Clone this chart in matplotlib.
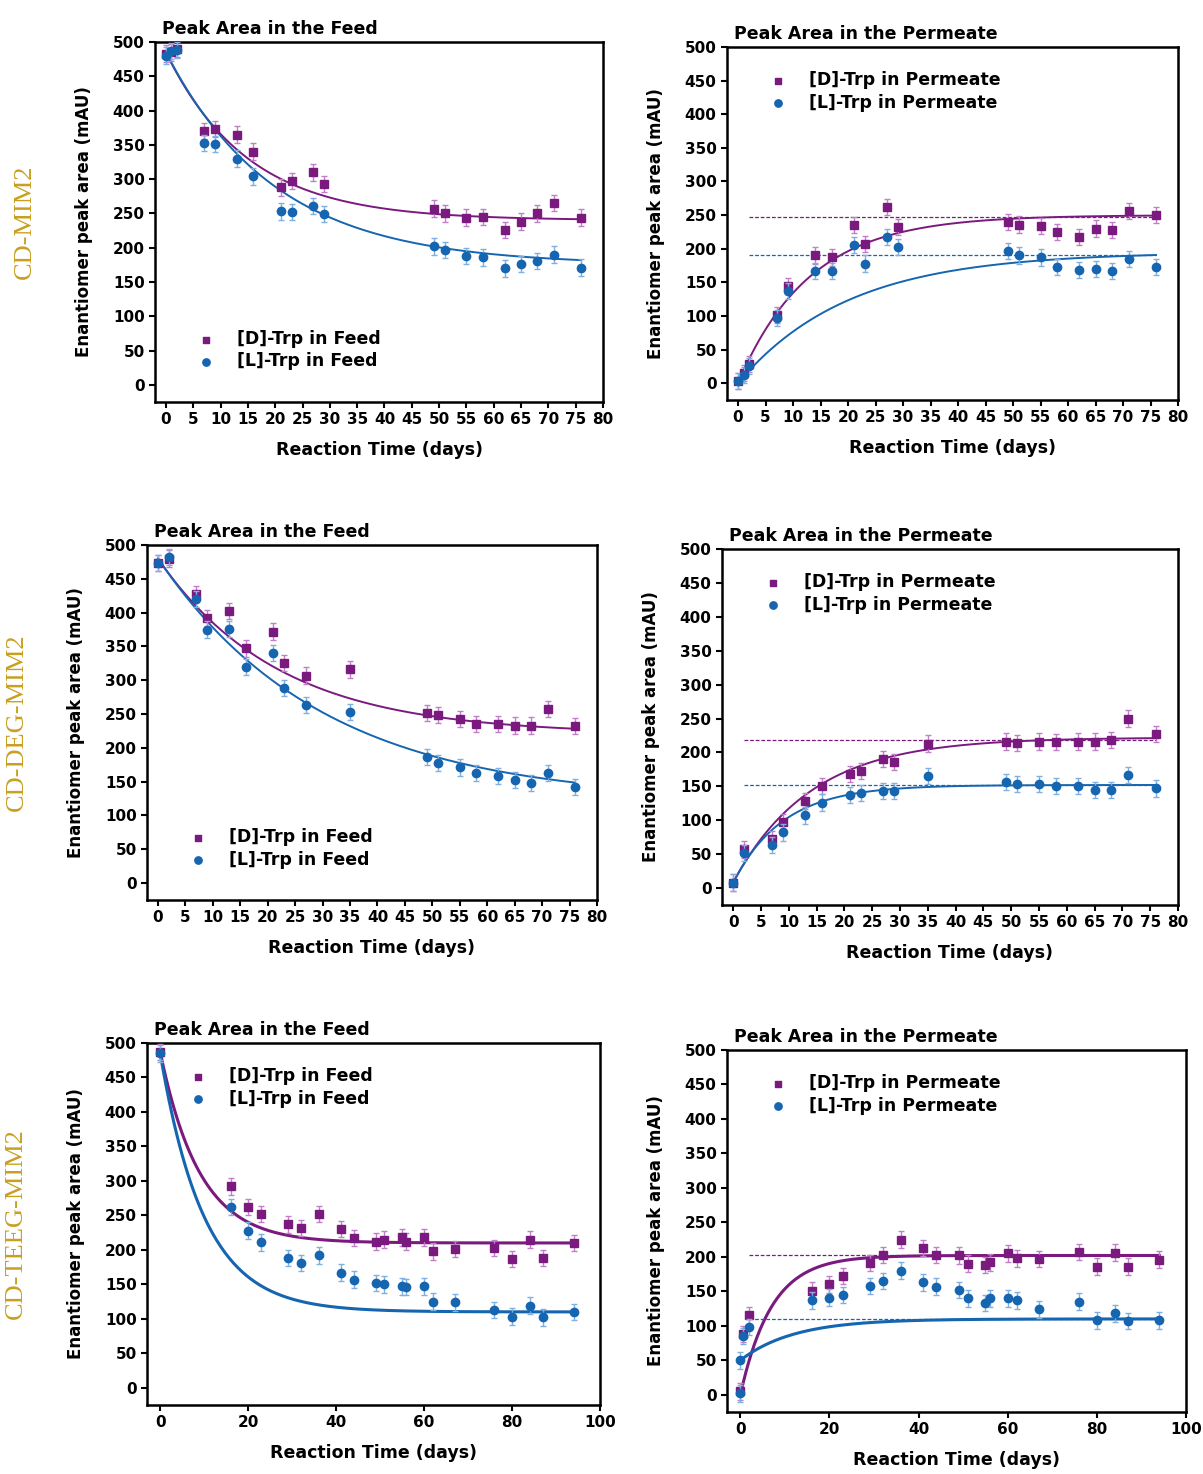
import numpy as np
import matplotlib.pyplot as plt

W, H = 1203, 1474
PURPLE = '#7b1a7e'
BLUE = '#1565b0'

# ---- data ----
t1 = [0, 1, 2, 7, 9, 13, 16, 21, 23, 27, 29, 49, 51, 55, 58, 62, 65, 68, 71, 76]
d1 = [483, 485, 490, 370, 373, 365, 340, 288, 297, 310, 293, 257, 250, 244, 245, 226, 238, 250, 265, 244]
l1 = [480, 487, 488, 353, 351, 330, 304, 253, 252, 261, 249, 202, 197, 188, 186, 170, 176, 181, 190, 171]

t2 = [0, 1, 2, 7, 9, 14, 17, 21, 23, 27, 29, 49, 51, 55, 58, 62, 65, 68, 71, 76]
d2 = [3, 15, 28, 102, 145, 190, 187, 235, 207, 262, 232, 240, 236, 234, 225, 218, 230, 228, 256, 250]
l2 = [3, 12, 25, 97, 137, 167, 167, 205, 178, 218, 203, 197, 190, 187, 173, 168, 170, 167, 185, 173]

t3 = [0, 2, 7, 9, 13, 16, 21, 23, 27, 35, 49, 51, 55, 58, 62, 65, 68, 71, 76]
d3 = [473, 480, 428, 392, 402, 347, 372, 326, 307, 316, 251, 249, 243, 235, 235, 233, 233, 258, 232]
l3 = [473, 482, 420, 375, 376, 320, 340, 289, 263, 253, 186, 178, 171, 163, 158, 152, 148, 163, 142]

t4 = [0, 2, 7, 9, 13, 16, 21, 23, 27, 29, 35, 49, 51, 55, 58, 62, 65, 68, 71, 76]
d4 = [8, 57, 72, 97, 128, 150, 168, 173, 190, 186, 213, 216, 214, 216, 215, 216, 216, 218, 250, 227]
l4 = [8, 52, 63, 82, 107, 126, 137, 140, 143, 143, 165, 156, 153, 153, 150, 150, 145, 145, 167, 147]

t5 = [0, 16, 20, 23, 29, 32, 36, 41, 44, 49, 51, 55, 56, 60, 62, 67, 76, 80, 84, 87, 94]
d5 = [487, 292, 262, 252, 237, 232, 252, 230, 217, 212, 215, 218, 212, 218, 198, 201, 203, 187, 215, 188, 210]
l5 = [485, 262, 228, 211, 188, 181, 192, 167, 157, 152, 150, 147, 146, 147, 125, 124, 113, 103, 119, 102, 110]

t6d = [0, 0.5, 2, 16, 20, 23, 29, 32, 36, 41, 44, 49, 51, 55, 56, 60, 62, 67, 76, 80, 84, 87, 94]
d6 = [5, 88, 115, 151, 160, 172, 191, 203, 225, 213, 203, 202, 190, 188, 192, 205, 198, 197, 207, 186, 206, 186, 196]
t6l = [0, 0, 0.5, 2, 16, 20, 23, 29, 32, 36, 41, 44, 49, 51, 55, 56, 60, 62, 67, 76, 80, 84, 87, 94]
l6 = [2, 50, 85, 98, 137, 141, 145, 158, 165, 180, 163, 157, 152, 140, 133, 140, 140, 137, 124, 135, 108, 118, 107, 108]

# fitted curves: (plateau, start, tau)
fits = {
    1: ((240, 485, 15), (175, 485, 20)),
    2: ((250, 0, 13), (195, 0, 20)),
    3: ((220, 480, 22), (120, 480, 30)),
    4: ((222, 8, 14), (152, 8, 9)),
    5: ((210, 487, 9), (110, 485, 10)),
    6: ((202, 0, 7), (110, 50, 12)),
}
dashed = {2: (247, 190), 4: (218, 152), 6: (202, 110)}

# axes boxes in pixels: left, top, right, bottom
boxes = {
    1: (155, 42, 603, 402), 2: (727, 47, 1178, 400),
    3: (147, 545, 597, 900), 4: (722, 549, 1178, 905),
    5: (147, 1043, 600, 1405), 6: (727, 1050, 1186, 1412),
}
panels = {
    1: (t1, d1, t1, l1), 2: (t2, d2, t2, l2), 3: (t3, d3, t3, l3),
    4: (t4, d4, t4, l4), 5: (t5, d5, t5, l5), 6: (t6d, d6, t6l, l6),
}
rows = ['CD-MIM2', 'CD-DEG-MIM2', 'CD-TEEG-MIM2']

plt.rcParams['font.family'] = 'DejaVu Sans'
fig = plt.figure(figsize=(W / 100, H / 100), dpi=100)

for k in range(1, 7):
    l, t, r, b = boxes[k]
    ax = fig.add_axes([l / W, 1 - b / H, (r - l) / W, (b - t) / H])
    td, yd, tl, yl = panels[k]
    feed = k % 2 == 1
    big = k >= 5
    xmax = 100 if big else 80
    tt = np.linspace(0, 76 if not big else 94, 300)
    for (a, y0, tau), c in zip(fits[k], (PURPLE, BLUE)):
        ax.plot(tt, a - (a - y0) * np.exp(-tt / tau), color=c, lw=2.2 if big else 1.4, zorder=2)
    if k in dashed:
        for v, c in zip(dashed[k], (PURPLE, BLUE)):
            ax.plot([2, 76 if not big else 94], [v, v], ls='--', dashes=(3, 1.5), color=c, lw=0.9)
    ax.errorbar(td, yd, yerr=12, fmt='s', ms=5.5, color=PURPLE, ecolor='#c080c8',
                elinewidth=1, capsize=2.5, zorder=3)
    ax.errorbar(tl, yl, yerr=12, fmt='o', ms=6, color=BLUE, ecolor='#80b0e0',
                elinewidth=1, capsize=2.5, zorder=4)
    # legend handles
    where = 'Feed' if feed else 'Permeate'
    hd = ax.scatter([], [], marker='s', s=22, color=PURPLE, label='[D]-Trp in ' + where)
    hl = ax.scatter([], [], marker='o', s=28, color=BLUE, label='[L]-Trp in ' + where)
    loc = 'lower left' if feed and not big else 'upper left'
    leg = ax.legend(handles=[hd, hl], loc=loc, frameon=False,
                    prop={'size': 12.5, 'weight': 'semibold'},
                    handletextpad=0.8, borderaxespad=1.0, labelspacing=0.25,
                    bbox_to_anchor=(0.02, 0.02) if loc == 'lower left' else (0.02, 1.0))
    ax.set_xlim(-2 if not big else -3, xmax)
    ax.set_ylim(-25, 500)
    ax.set_xticks(np.arange(0, xmax + 1, 20 if big else 5))
    ax.set_yticks(np.arange(0, 501, 50))
    ax.tick_params(labelsize=11, width=1.5, length=4)
    for s in ax.spines.values():
        s.set_linewidth(1.8)
    for lab in ax.get_xticklabels() + ax.get_yticklabels():
        lab.set_fontweight('bold')
    ax.set_xlabel('Reaction Time (days)', fontsize=12.5, fontweight='bold', labelpad=10)
    ax.set_ylabel('Enantiomer peak area (mAU)', fontsize=12, fontweight='bold', labelpad=14)
    ax.text(0.015, 1.012, 'Peak Area in the ' + where, transform=ax.transAxes,
            ha='left', va='bottom', fontsize=12.5, fontweight='semibold')
    if feed:
        ax.text(-0.29, 0.5, rows[(k - 1) // 2], transform=ax.transAxes, rotation=90,
                ha='center', va='center', fontsize=19, color='#c8a020',
                family='Liberation Serif')

fig.savefig('out.png', dpi=100)
